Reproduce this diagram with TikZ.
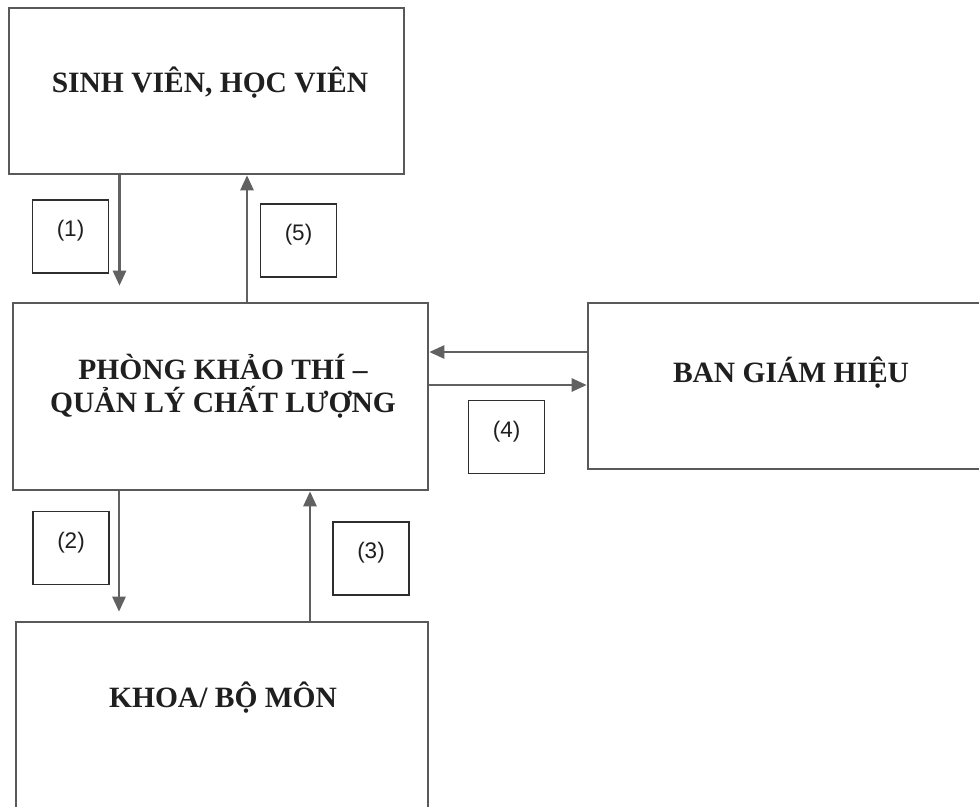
\documentclass[tikz,border=0pt]{standalone}
\usepackage{fontspec}
\setmainfont{Liberation Serif}
\setsansfont{Liberation Sans}
\usetikzlibrary{arrows.meta,positioning}

\begin{document}
\begin{tikzpicture}[
    x=1pt, y=-1pt,
    unit/.style={rectangle, draw=black!65, line width=2.6pt, inner sep=0pt},
    title/.style={font=\fontsize{29.5}{33}\selectfont\bfseries, text=black!88, align=center, inner sep=0pt, anchor=base},
    numbox/.style={rectangle, draw=black!82, line width=1.8pt, minimum width=76pt, minimum height=73pt, inner sep=0pt, text height=16pt, text depth=16pt, font=\fontsize{22.5}{26}\selectfont\sffamily, text=black!88},
    flow/.style={draw=black!62, line width=2.6pt, -{Triangle[length=15pt,width=13pt]}},
]
    \useasboundingbox (0,0) rectangle (979,806);

    % the four offices
    \node[unit, minimum width=395pt, minimum height=166pt] (sv) at (206.5,91) {};
    \node[unit, minimum width=415pt, minimum height=187pt] (pk) at (220.5,396.5) {};
    \node[unit, minimum width=402pt, minimum height=166pt] (bgh) at (789,386) {};
    \node[unit, minimum width=412pt, minimum height=208pt] (khoa) at (222,726) {};

    \node[title] (svname) at (210,92) {SINH VIÊN, HỌC VIÊN};
    \node[title] (pkname) at (223,412) {PHÒNG KHẢO THÍ –\\QUẢN LÝ CHẤT LƯỢNG};
    \node[title] (bghname) at (791,382) {BAN GIÁM HIỆU};
    \node[title] (khoaname) at (223,707) {KHOA/ BỘ MÔN};

    % step numbers
    \node[numbox] (n1) at (70.5,236.5) {(1)};
    \node[numbox] (n5) at (298.5,240.5) {(5)};
    \node[numbox] (n4) at (506.5,437) {(4)};
    \node[numbox] (n2) at (71,548) {(2)};
    \node[numbox] (n3) at (371,558.5) {(3)};

    \draw[flow, shorten >=16pt] (119.5,0 |- sv.south) -- (119.5,0 |- pk.north);
    \draw[flow] (247,0 |- pk.north) -- (247,0 |- sv.south);
    \draw[flow] (bgh.west |- 0,352) -- (pk.east |- 0,352);
    \draw[flow] (pk.east |- 0,385) -- (bgh.west |- 0,385);
    \draw[flow, shorten >=9pt] (119,0 |- pk.south) -- (119,0 |- khoa.north);
    \draw[flow] (310,0 |- khoa.north) -- (310,0 |- pk.south);
\end{tikzpicture}
\end{document}
